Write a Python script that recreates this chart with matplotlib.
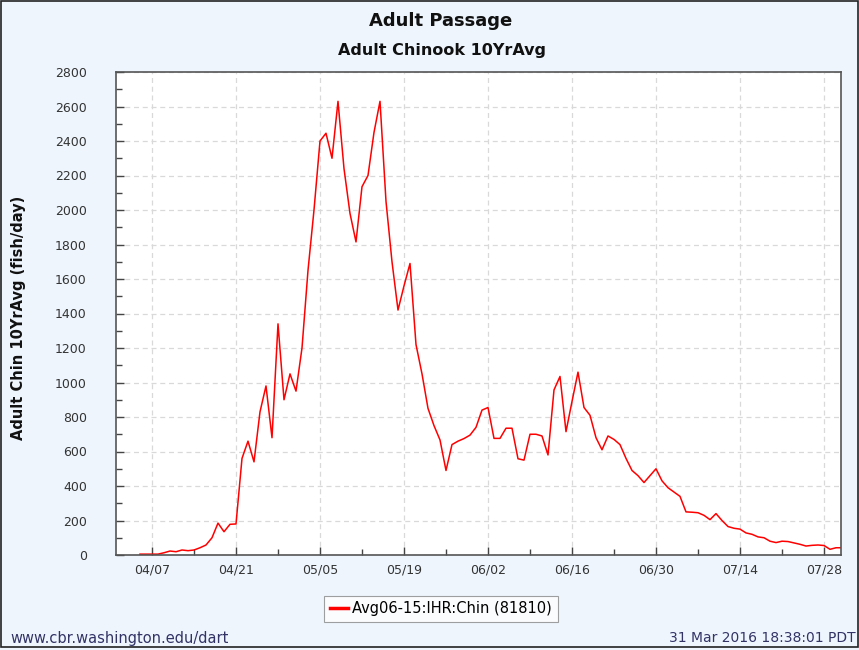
import numpy as np
import pandas as pd
import matplotlib
matplotlib.use('Agg')
import matplotlib.pyplot as plt
import matplotlib.dates as mdates
from matplotlib.patches import Rectangle

# Daily 10-year average adult chinook passage (fish/day), starting 04/05
start_date = '2016-04-05'
passage = [5, 5, 5, 5, 13, 23, 19, 29, 25, 29, 42, 58, 100, 185, 135, 178, 180,
           560, 660, 540, 830, 980, 680, 1340, 900, 1050, 950, 1200, 1650, 2000,
           2400, 2445, 2300, 2630, 2240, 1980, 1815, 2135, 2200, 2450, 2630, 2050,
           1700, 1420, 1560, 1690, 1220, 1050, 850, 750, 667, 490, 640, 660, 675,
           695, 740, 840, 855, 676, 676, 735, 735, 558, 550, 700, 700, 690, 580,
           957, 1035, 715, 890, 1060, 855, 810, 680, 610, 690, 670, 640, 560, 490,
           460, 420, 460, 500, 430, 390, 365, 340, 250, 248, 245, 230, 205, 240,
           200, 165, 155, 150, 128, 120, 105, 100, 80, 72, 80, 78, 70, 62, 52, 56,
           58, 55, 33, 42, 42]
series_label = 'Avg06-15:IHR:Chin (81810)'
dates = pd.date_range(start_date, periods=len(passage), freq='D')

bg = '#eef5fd'
fig = plt.figure(figsize=(8.59, 6.5), dpi=100, facecolor=bg)
fig.patches.append(Rectangle((0.5 / 859, 3 / 650), 1 - 1.5 / 859, 1 - 4 / 650,
                             transform=fig.transFigure, fill=False,
                             edgecolor='#222222', lw=1.2))

ax = fig.add_axes([116 / 859, 1 - 555 / 650, (841 - 116) / 859, (555 - 72) / 650])
ax.set_facecolor('white')
line, = ax.plot(dates, passage, color='#ff0000', lw=1.1)

ax.set_xlim(pd.Timestamp('2016-04-01'), pd.Timestamp('2016-07-31') - pd.Timedelta(hours=4))
ax.set_ylim(0, 2800)
ax.set_yticks(np.arange(0, 2801, 200))
ax.set_yticks(np.arange(100, 2800, 200), minor=True)
major_days = pd.date_range('2016-04-07', '2016-07-28', freq='14D')
minor_days = pd.date_range('2016-04-14', '2016-07-31', freq='14D')
ax.set_xticks(major_days)
ax.set_xticks(minor_days, minor=True)
ax.xaxis.set_major_formatter(mdates.DateFormatter('%m/%d'))

ax.grid(True, which='major', color='#d9d9d9', ls=(0, (4, 3)), lw=0.9)
for s in ax.spines.values():
    s.set_color('#555555')
    s.set_linewidth(1.2)
ax.tick_params(which='major', direction='in', length=6, width=1, color='#444444',
               labelsize=9, labelcolor='#333333')
ax.tick_params(which='minor', direction='in', length=4, width=1, color='#444444')
ax.tick_params(axis='y', pad=21)
ax.tick_params(axis='x', pad=6)

fig.text(441 / 859, 1 - 21 / 650, 'Adult Passage', ha='center', va='center',
         fontsize=13, fontweight='bold', color='#111111')
fig.text(442 / 859, 1 - 50 / 650, 'Adult Chinook 10YrAvg', ha='center', va='center',
         fontsize=11.5, fontweight='bold', color='#111111')
fig.text(19 / 859, 1 - 318 / 650, 'Adult Chin 10YrAvg (fish/day)', ha='center',
         va='center', rotation=90, fontsize=10.5, fontweight='bold', color='#111111')

leg = fig.legend([line], [series_label], loc='center',
                 bbox_to_anchor=(441 / 859, 1 - 609 / 650), fontsize=10.5,
                 frameon=True, fancybox=False, handlelength=1.2, handletextpad=0.3,
                 borderpad=0.4, borderaxespad=0)
leg.get_frame().set_edgecolor('#888888')
leg.get_frame().set_linewidth(0.8)
leg.get_lines()[0].set_linewidth(2.5)

fig.text(10 / 859, 1 - 638 / 650, 'www.cbr.washington.edu/dart', ha='left',
         va='center', fontsize=10.5, color='#333366')
fig.text(856 / 859, 1 - 638 / 650, '31 Mar 2016 18:38:01 PDT', ha='right',
         va='center', fontsize=10, color='#333366')

fig.savefig('out.png', dpi=100, facecolor=bg)
